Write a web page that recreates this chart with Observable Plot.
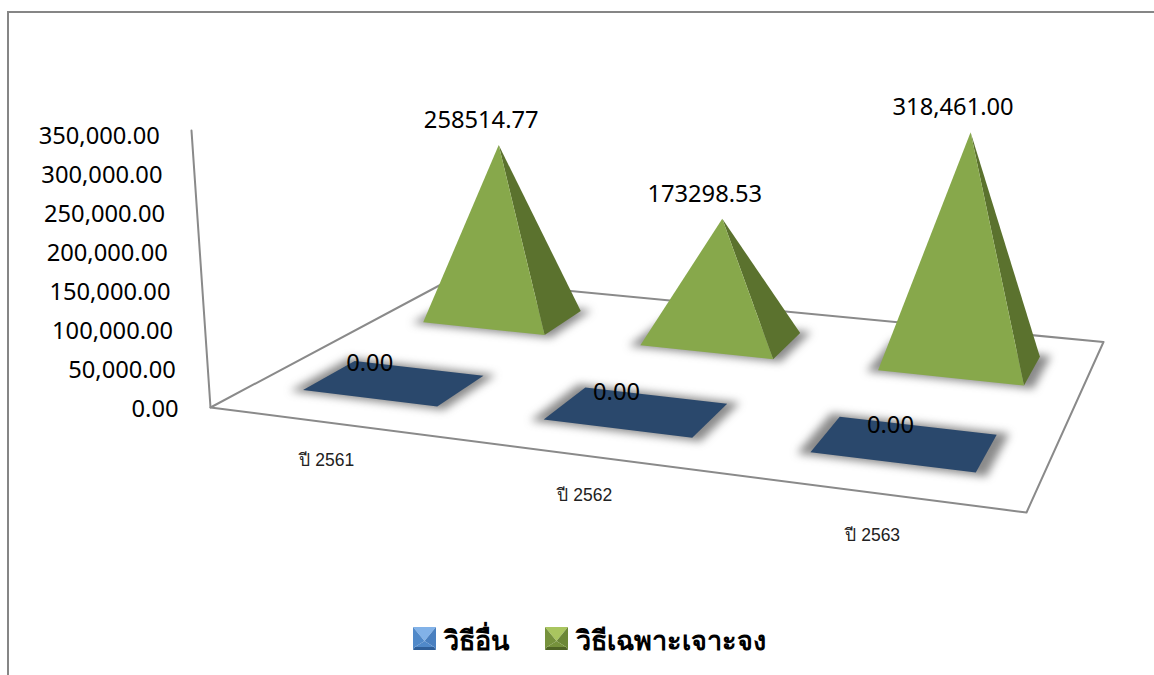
<!DOCTYPE html>
<html lang="th">
<head>
<meta charset="utf-8">
<script src="https://cdn.jsdelivr.net/npm/d3@7"></script>
<script src="https://cdn.jsdelivr.net/npm/@observablehq/plot@0.6"></script>
<style>
  html, body { margin: 0; padding: 0; background: #fff; }
  #page { position: relative; width: 1154px; height: 675px; overflow: hidden; }
  #frame { position: absolute; left: 7px; top: 11px; width: 1160px; height: 700px; border: 2px solid #868686; box-sizing: border-box; }
  #chart { position: absolute; left: 0; top: 0; }
  #chart svg { display: block; background: transparent; }
  #legend { position: absolute; left: 0; top: 612px; width: 1154px; height: 63px; font: bold 27px "Noto Sans", "Liberation Sans", sans-serif; color: #000; }
  .key { position: absolute; top: 14px; display: flex; align-items: center; gap: 8px; line-height: 24px; white-space: nowrap; }
  .key span { position: relative; top: 2px; }
  .key svg { display: block; }
</style>
</head>
<body>
<div id="page">
  <div id="frame"></div>
  <div id="chart"></div>
  <div id="legend"></div>
</div>
<script>
// Values by year and by procurement method
const categories = ["ปี 2561", "ปี 2562", "ปี 2563"];
const otherMethod = [0, 0, 0];
const specificMethod = [258514.77, 173298.53, 318461.00];
const otherLabels = ["0.00", "0.00", "0.00"];
const specificLabels = ["258514.77", "173298.53", "318,461.00"];
const axisTicks = [0, 50000, 100000, 150000, 200000, 250000, 300000, 350000];
const seriesNames = ["วิธีอื่น", "วิธีเฉพาะเจาะจง"];

const W = 1154, H = 612;

// Perspective view of the chart floor: unit square -> page
const floor = {A: [210, 407], B: [1026, 512], C: [1103, 341.5], D: [450, 279]};
const homography = (() => {
  const [x0, y0] = floor.A, [x1, y1] = floor.B, [x2, y2] = floor.C, [x3, y3] = floor.D;
  const dx1 = x1 - x2, dx2 = x3 - x2, sx = x0 - x1 + x2 - x3;
  const dy1 = y1 - y2, dy2 = y3 - y2, sy = y0 - y1 + y2 - y3;
  const den = dx1 * dy2 - dx2 * dy1;
  const g = (sx * dy2 - dx2 * sy) / den;
  const h = (dx1 * sy - sx * dy1) / den;
  return {a: x1 - x0 + g * x1, b: x3 - x0 + h * x3, c: x0,
          d: y1 - y0 + g * y1, e: y3 - y0 + h * y3, f: y0, g, h};
})();

// Vertical lines converge on a point far below the floor
const vanishX = 658, vanishD = 6527, heightAtCorner = 0.00078;

function project(u, v, value = 0) {
  const m = homography;
  const w = m.g * u + m.h * v + 1;
  const bx = (m.a * u + m.b * v + m.c) / w;
  const by = (m.d * u + m.e * v + m.f) / w;
  const rise = value * heightAtCorner * 1 / w;
  return {x: bx + rise * (bx - vanishX) / vanishD, y: by - rise};
}

const cellU = (i, t) => (i + t) / categories.length;
const cellV = (s, t) => (s + t) / 2;

// Corner of the square footprint of a pyramid, a and b in 0..1 across the cell
const gapU = 0.215, gapV = 0.3;
const corner = (i, s, a, b) => project(
  cellU(i, gapU + (1 - 2 * gapU) * a),
  cellV(s, gapV + (1 - 2 * gapV) * b)
);

function polygon(points, id) {
  return points.map((p) => ({...p, id}));
}

const floorEdge = polygon([project(0, 0), project(1, 0), project(1, 1), project(0, 1), project(0, 0)], "floor");
const axisLine = [project(0, 0), project(0, 0, 355000)];

const shadows = [], blueTops = [], frontFaces = [], sideFaces = [];
const pad = 0.07;
categories.forEach((_, i) => {
  [0, 1].forEach((s) => {
    shadows.push(...polygon([
      corner(i, s, -pad, -pad), corner(i, s, 1 + pad, -pad),
      corner(i, s, 1 + pad, 1 + pad), corner(i, s, -pad, 1 + pad)
    ], `shadow-${i}-${s}`));
  });
  blueTops.push(...polygon([corner(i, 0, 0, 0), corner(i, 0, 1, 0), corner(i, 0, 1, 1), corner(i, 0, 0, 1)], `top-${i}`));
  const centerU = cellU(i, 0.5), centerV = cellV(1, 0.5);
  const apex = project(centerU, centerV, specificMethod[i]);
  frontFaces.push(...polygon([corner(i, 1, 0, 0), corner(i, 1, 1, 0), apex], `front-${i}`));
  sideFaces.push(...polygon([corner(i, 1, 1, 0), corner(i, 1, 1, 1), apex], `side-${i}`));
});

const tickRows = axisTicks.map((t) => ({...project(0, 0, t), t}));
// Category names sit below the front edge, a little tighter than the cells
const categoryRows = categories.map((c, i) => ({...project(0.068 + 0.951 * cellU(i, 0.5), -0.17), c}));
const specificRows = specificLabels.map((label, i) => ({...project(cellU(i, 0.5), cellV(1, 0.5), specificMethod[i]), label}));
const otherRows = otherLabels.map((label, i) => ({...project(cellU(i, 0.5 + (i - 1) * 0.02), cellV(0, 0.5), otherMethod[i]), label}));

const poly = (rows, fill, extra = {}) => Plot.line(rows, {x: "x", y: "y", z: "id", fill, stroke: "none", curve: "linear-closed", ...extra});
const valueFont = {fontFamily: "'Noto Sans', sans-serif", fontSize: 23.7, fill: "#000"};

const chart = Plot.plot({
  width: W, height: H,
  margin: 0,
  style: {background: "transparent"},
  x: {domain: [0, W], range: [0, W], axis: null},
  y: {domain: [H, 0], range: [H, 0], axis: null},
  marks: [
    poly(floorEdge, "#fff"),
    Plot.line(floorEdge, {x: "x", y: "y", stroke: "#8a8a8a", strokeWidth: 2, curve: "linear-closed"}),
    Plot.line(axisLine, {x: "x", y: "y", stroke: "#8a8a8a", strokeWidth: 2}),
    poly(shadows, "#3c3c3c", {imageFilter: "blur(4.5px)", fillOpacity: 0.6}),
    poly(blueTops, "#2a486c"),
    poly(sideFaces, "#5b722e"),
    poly(frontFaces, "#87a84b"),
    Plot.text(tickRows, {x: "x", y: "y", text: (d) => d3.format(",.2f")(d.t), textAnchor: "end", dx: -32, dy: 2, ...valueFont}),
    Plot.text(categoryRows, {x: "x", y: "y", text: "c", dx: 2, dy: 1, fontFamily: "'Liberation Sans', sans-serif", fontSize: 17.5, fill: "#222"}),
    Plot.text(specificRows, {x: "x", y: "y", text: "label", dx: -17.5, dy: -24.5, ...valueFont}),
    Plot.text(otherRows, {x: "x", y: "y", text: "label", dx: -20, dy: -19, ...valueFont})
  ]
});
document.getElementById("chart").append(chart);

// Legend keys: a pyramid seen from above, four shaded faces
const keyColours = [
  {top: "#82b2e8", left: "#5089c9", right: "#4a80c0", bottom: "#2f5f99"},
  {top: "#a9c55f", left: "#76923c", right: "#6c8736", bottom: "#4f6425"}
];
const keyLeft = [413, 545];
const legend = document.getElementById("legend");
seriesNames.forEach((name, i) => {
  const c = keyColours[i];
  const key = document.createElement("div");
  key.className = "key";
  key.style.left = keyLeft[i] + "px";
  key.innerHTML = `<svg width="23" height="23" viewBox="0 0 23 23">
    <polygon points="0,0 23,0 11.5,14" fill="${c.top}"/>
    <polygon points="0,0 0,23 2,20 11.5,14" fill="${c.left}"/>
    <polygon points="23,0 23,23 21,20 11.5,14" fill="${c.right}"/>
    <polygon points="2,20 21,20 11.5,14" fill="${c.left}"/>
    <polygon points="0,23 23,23 21,20 2,20" fill="${c.bottom}"/>
  </svg><span>${name}</span>`;
  legend.append(key);
});
</script>
</body>
</html>
